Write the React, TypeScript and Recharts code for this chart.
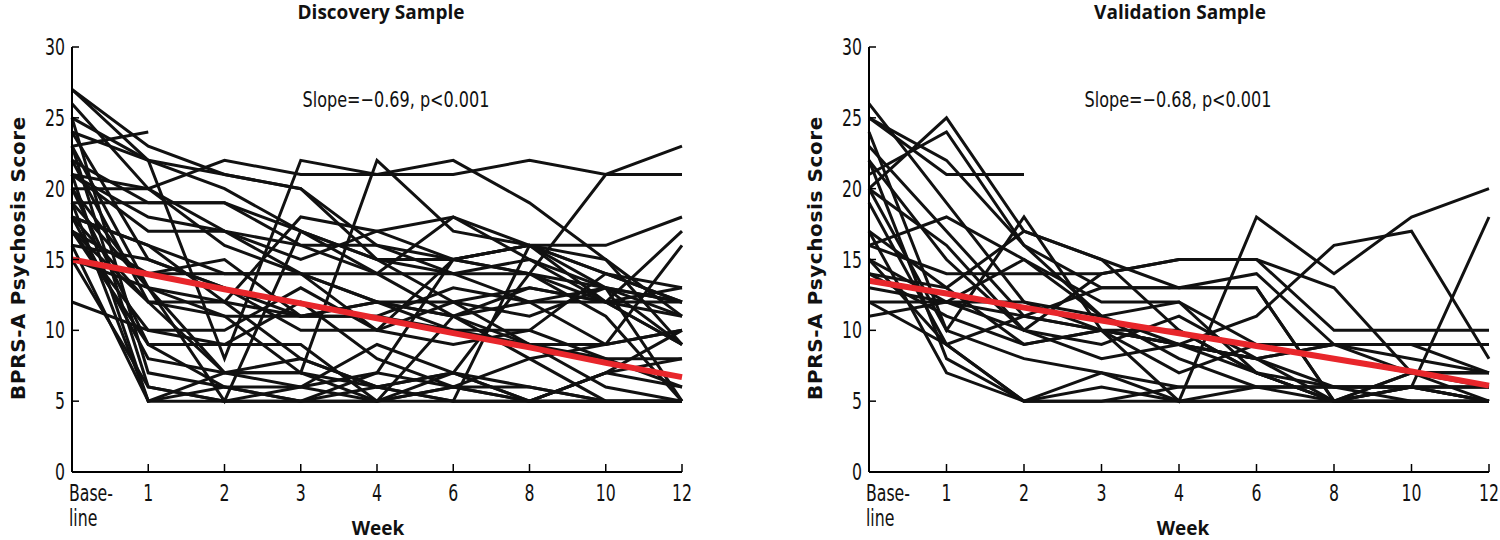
import React from 'react';
import { LineChart, Line, XAxis, YAxis } from 'recharts';

// x categories (equally spaced on the axis)
const weeks = ['Base-\nline', '1', '2', '3', '4', '6', '8', '10', '12'];
const yTicks = [0, 5, 10, 15, 20, 25, 30];

// discovery sample, one row per patient: baseline, wk1, 2, 3, 4, 6, 8, 10, 12
const discovery: number[][] = [
  [23, 24],
  [27, 23, 21, 20, 15, 12, 9, 6, 5],
  [21, 20, 22, 21, 21, 21, 22, 21, 23],
  [27, 22, 20, 17, 14, 11, 8, 5, 5],
  [25, 22, 8, 22, 21, 22, 19, 15, 9],
  [22, 19, 19, 17, 15, 15, 16, 16, 18],
  [24, 22, 21, 20, 16, 14, 12, 9, 10],
  [19, 13, 11, 7, 22, 17, 16, 12, 9],
  [21, 18, 17, 15, 17, 18, 16, 14, 13],
  [20, 20, 17, 16, 14, 18, 15, 13, 11],
  [19, 19, 19, 16, 16, 15, 16, 14, 12],
  [18, 16, 14, 14, 12, 11, 13, 12, 12],
  [17, 14, 14, 14, 10, 15, 14, 13, 12],
  [16, 15, 13, 11, 11, 10, 9, 9, 10],
  [15, 13, 12, 11, 12, 12, 11, 13, 9],
  [12, 10, 10, 13, 10, 9, 10, 8, 8],
  [17, 10, 9, 9, 5, 6, 5, 7, 6],
  [20, 9, 9, 12, 8, 6, 8, 9, 16],
  [22, 12, 11, 11, 12, 11, 12, 13, 5],
  [18, 12, 12, 8, 6, 5, 16, 15, 11],
  [25, 7, 6, 5, 7, 6, 5, 7, 10],
  [23, 6, 5, 5, 5, 6, 6, 5, 5],
  [21, 5, 5, 5, 5, 5, 5, 5, 5],
  [19, 5, 6, 5, 6, 5, 5, 5, 5],
  [16, 5, 7, 7, 5, 7, 6, 5, 5],
  [18, 8, 7, 8, 6, 7, 5, 7, 8],
  [15, 6, 5, 6, 7, 15, 14, 11, 5],
  [17, 9, 6, 6, 5, 11, 9, 8, 6],
  [20, 13, 7, 6, 9, 7, 5, 5, 5],
  [24, 15, 13, 10, 10, 12, 13, 12, 11],
  [21, 17, 17, 14, 12, 10, 10, 14, 12],
  [15, 14, 15, 11, 11, 13, 12, 12, 13],
  [23, 13, 5, 17, 15, 14, 14, 12, 17],
  [18, 16, 12, 18, 17, 15, 16, 13, 12],
  [26, 20, 16, 14, 14, 14, 15, 12, 9],
  [17, 12, 7, 7, 6, 7, 14, 21, 21],
];

// validation sample
const validation: number[][] = [
  [25, 21, 21],
  [20, 25, 17, 15, 10, 7, 5, 5, 5],
  [21, 24, 16, 11, 9, 7, 6, 6, 5],
  [26, 19, 12, 10, 9, 8, 6, 5, 5],
  [25, 22, 16, 13, 13, 13, 5, 5, 5],
  [23, 17, 11, 10, 5, 18, 14, 18, 20],
  [22, 15, 10, 14, 15, 15, 13, 7, 5],
  [20, 16, 10, 8, 9, 11, 16, 17, 8],
  [16, 14, 14, 14, 15, 15, 10, 10, 10],
  [17, 13, 17, 15, 13, 14, 9, 7, 7],
  [16, 18, 15, 12, 12, 9, 9, 8, 7],
  [15, 12, 15, 11, 12, 7, 5, 6, 6],
  [14, 13, 9, 10, 9, 8, 5, 7, 7],
  [13, 12, 12, 11, 8, 6, 6, 6, 6],
  [12, 12, 10, 9, 11, 8, 9, 9, 7],
  [11, 12, 11, 10, 7, 9, 8, 7, 7],
  [15, 9, 11, 13, 13, 13, 5, 6, 5],
  [20, 10, 18, 10, 10, 7, 5, 7, 6],
  [17, 7, 5, 5, 5, 5, 5, 5, 5],
  [22, 8, 5, 6, 5, 6, 6, 6, 6],
  [19, 9, 5, 7, 5, 5, 5, 5, 5],
  [24, 10, 8, 7, 6, 6, 5, 6, 5],
  [12, 9, 5, 5, 6, 6, 6, 6, 18],
  [14, 11, 9, 10, 9, 8, 9, 9, 9],
];

// fitted trend (red)
const discoveryTrend = [15, 13.96, 12.9, 11.9, 10.85, 9.8, 8.8, 7.7, 6.7];
const validationTrend = [13.5, 12.6, 11.6, 10.7, 9.8, 8.9, 8.0, 7.1, 6.1];

const tickFont = "'Liberation Sans Narrow', 'DejaVu Sans Condensed', 'DejaVu Sans', sans-serif";
const boldFont = "'Open Sans', 'DejaVu Sans', sans-serif";

function buildRows(subjects: number[][], trend: number[]) {
  return weeks.map((w, i) => {
    const row: any = { week: w, trend: trend[i] };
    subjects.forEach((s, j) => {
      row['s' + j] = i < s.length ? s[i] : null;
    });
    return row;
  });
}

// narrow-looking tick text: squeeze horizontally
const Narrow = ({ x, y, anchor, children }: any) => (
  <g transform={`translate(${x},${y}) scale(0.76,1)`}>
    <text x={0} y={0} textAnchor={anchor} fontSize={23} fontFamily={tickFont} fill="#111">
      {children}
    </text>
  </g>
);

const YTick = (props: any) => {
  const { x, y, payload } = props;
  return (
    <g>
      <line x1={x} x2={x + 7} y1={y} y2={y} stroke="#000" strokeWidth={1.5} />
      <Narrow x={x - 7} y={y + 8} anchor="end">
        {payload.value}
      </Narrow>
    </g>
  );
};

const XTick = (props: any) => {
  const { x, y, payload } = props;
  const parts = String(payload.value).split('\n');
  const first = parts.length > 1;
  return (
    <g>
      <line x1={x} x2={x} y1={y} y2={y - 8} stroke="#000" strokeWidth={1.5} />
      {parts.map((p, k) => (
        <Narrow key={k} x={first ? x - 3 : x} y={y + 29 + k * 25} anchor={first ? 'start' : 'middle'}>
          {p}
        </Narrow>
      ))}
    </g>
  );
};

function Panel({ subjects, trend, left, width, marginLeft, marginRight }: any) {
  const rows = buildRows(subjects, trend);
  return (
    <div style={{ position: 'absolute', left, top: 0 }}>
      <LineChart
        width={width}
        height={540}
        data={rows}
        margin={{ top: 47, right: marginRight, bottom: 8, left: marginLeft }}
      >
        <XAxis
          dataKey="week"
          scale="point"
          padding={{ left: 0, right: 0 }}
          height={60}
          tickSize={0}
          tickMargin={0}
          tickLine={false}
          axisLine={{ stroke: '#000', strokeWidth: 2 }}
          tick={<XTick />}
          interval={0}
        />
        <YAxis
          type="number"
          domain={[0, 30]}
          ticks={yTicks}
          width={40}
          tickSize={0}
          tickMargin={0}
          tickLine={false}
          axisLine={{ stroke: '#000', strokeWidth: 2 }}
          tick={<YTick />}
          interval={0}
        />
        {subjects.map((_: any, j: number) => (
          <Line
            key={j}
            dataKey={'s' + j}
            stroke="#111"
            strokeWidth={3}
            dot={false}
            activeDot={false}
            connectNulls={false}
            isAnimationActive={false}
          />
        ))}
        <Line dataKey="trend" stroke="#e8262b" strokeWidth={6} dot={false} activeDot={false} isAnimationActive={false} />
      </LineChart>
    </div>
  );
}

const label = (text: string, x: number, y: number, style: any) => (
  <div
    style={{
      position: 'absolute',
      left: x - 200,
      top: y,
      width: 400,
      textAlign: 'center',
      whiteSpace: 'nowrap',
      lineHeight: '24px',
      ...style,
    }}
  >
    {text}
  </div>
);

const yTitle = (x: number) => (
  <div
    style={{
      position: 'absolute',
      left: x - 200,
      top: 246,
      width: 400,
      textAlign: 'center',
      transform: 'rotate(-90deg)',
      fontFamily: "'DejaVu Sans', sans-serif",
      fontWeight: 700,
      fontSize: 20,
      letterSpacing: 0.6,
      lineHeight: '24px',
      color: '#111',
      whiteSpace: 'nowrap',
    }}
  >
    BPRS-A Psychosis Score
  </div>
);

export default function App() {
  const titleStyle = { fontFamily: boldFont, fontWeight: 700, fontSize: 19, color: '#111' };
  const slopeStyle = { fontFamily: tickFont, fontSize: 21, color: '#111', transform: 'scaleX(0.85)' };
  return (
    <div style={{ position: 'absolute', left: 0, top: 0, width: 1500, height: 540, background: '#fff', overflow: 'hidden' }}>
      <Panel subjects={discovery} trend={discoveryTrend} left={0} width={700} marginLeft={32} marginRight={18} />
      <Panel subjects={validation} trend={validationTrend} left={750} width={750} marginLeft={79} marginRight={11} />
      {label('Discovery Sample', 381, 0, titleStyle)}
      {label('Validation Sample', 1180, 0, titleStyle)}
      {label('Slope=\u22120.69, p<0.001', 396, 88, slopeStyle)}
      {label('Slope=\u22120.68, p<0.001', 1178, 88, slopeStyle)}
      {label('Week', 378, 516, titleStyle)}
      {label('Week', 1183, 516, titleStyle)}
      {yTitle(18)}
      {yTitle(815)}
    </div>
  );
}
